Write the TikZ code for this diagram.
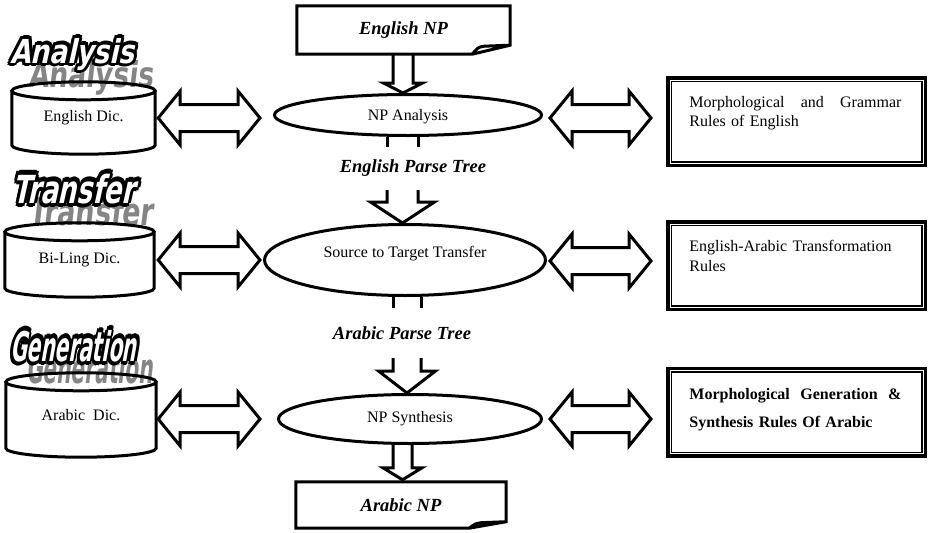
\documentclass[tikz,border=0pt]{standalone}
\usepackage{fontspec}
\setmainfont{Liberation Serif}
\newfontfamily\wafont{DejaVu Sans}
\usetikzlibrary{shapes.geometric,calc}

\newcommand\olc[3]{\rlap{\hspace*{#1}\raisebox{#2}{\textcolor{black}{#3}}}}
\newcommand\outlined[1]{\olc{1.2pt}{0pt}{#1}\olc{-1.2pt}{0pt}{#1}\olc{0pt}{1.2pt}{#1}\olc{0pt}{-1.2pt}{#1}\olc{0.85pt}{0.85pt}{#1}\olc{-0.85pt}{0.85pt}{#1}\olc{0.85pt}{-0.85pt}{#1}\olc{-0.85pt}{-0.85pt}{#1}\textcolor{white}{#1}}

% shaft of a block arrow: #1 top point, #2 bottom point, #3 point giving x centre, #4 half width
\newcommand\shaftseg[4]{\draw[blk] let \p1=#1, \p2=#2, \p3=#3 in (\x3-#4,\y1) -- (\x3-#4,\y2) (\x3+#4,\y1) -- (\x3+#4,\y2);}
% head of a block arrow: #1 top point, #2 tip, #3 shaft half, #4 head half, #5 head length
\newcommand\headseg[5]{\draw[blk] let \p1=#1, \p2=#2 in (\x2-#3,\y1) -- (\x2-#3,\y2+#5) -- (\x2-#4,\y2+#5) -- (\x2,\y2) -- (\x2+#4,\y2+#5) -- (\x2+#3,\y2+#5) -- (\x2+#3,\y1);}
% horizontal double block arrow between two points (y of the first)
\newcommand\dblarr[2]{\draw[blk] let \p1=#1, \p2=#2 in (\x1,\y1) -- (\x1+22pt,\y1+27pt) -- (\x1+22pt,\y1+13.5pt) -- (\x2-22pt,\y1+13.5pt) -- (\x2-22pt,\y1+27pt) -- (\x2,\y1) -- (\x2-22pt,\y1-27pt) -- (\x2-22pt,\y1-13.5pt) -- (\x1+22pt,\y1-13.5pt) -- (\x1+22pt,\y1-27pt) -- cycle;}
% cylinder drawn round a node
\newcommand\cylshape[1]{\draw[blk] let \p1=(#1.north west), \p2=(#1.south east), \n1={(\x2-\x1)/2} in (\x1+\n1,\y1-9pt) ellipse [x radius=\n1, y radius=9pt] (\x1,\y1-9pt) -- (\x1,\y2+9pt) arc[start angle=180, end angle=360, x radius=\n1, y radius=9pt] -- (\x2,\y1-9pt);}
% document box with folded corner drawn round a node
\newcommand\foldbox[3]{\draw[blk] let \p1=(#1.north west), \p2=(#1.south east) in (\x1,\y2) -- (\x1,\y1) -- (\x2,\y1) -- (\x2,\y2+#2) -- (\x2-#3,\y2) -- cycle (\x2-#3,\y2) .. controls (\x2-#3+6pt,\y2+#2-2pt) .. (\x2-#3+12pt,\y2+#2-1pt) -- (\x2,\y2+#2);}
% inner thin frame of a rule box
\newcommand\innerframe[1]{\draw[line width=1.5pt] ($(#1.north west)+(5.25,5.25)$) rectangle ($(#1.south east)+(-5.25,-5.25)$);}

\begin{document}
\begin{tikzpicture}[x=1pt,y=-1pt,
 blk/.style={line width=3pt, line join=miter},
 txtsixteen/.style={font=\fontsize{16}{19.5}\selectfont},
 ell/.style={ellipse, draw, line width=3pt, inner sep=0pt, txtsixteen},
 cylnode/.style={inner sep=0pt, txtsixteen},
 npbox/.style={inner sep=0pt, font=\fontsize{18.5}{22}\selectfont\bfseries\itshape},
 lbl/.style={inner sep=0pt, font=\fontsize{18.5}{22}\selectfont\bfseries\itshape},
 rulebox/.style={draw, line width=3.5pt, minimum width=257.5pt, minimum height=87.5pt, inner sep=0pt},
 rtext/.style={inner sep=0pt, text width=212pt, align=left, anchor=north west, txtsixteen},
 wa/.style={inner sep=0pt, anchor=base west, font=\wafont\bfseries}]
\useasboundingbox[fill=white] (0,0) rectangle (930,533);

% word art labels
\begin{scope}[shift={(28,87)}, xslant=0.12]
 \node[wa, transform shape, text=black!48] (was1) at (0,0) {\resizebox{125pt}{27pt}{Analysis}};
\end{scope}
\begin{scope}[shift={(10,63)}, xslant=0.22]
 \node[wa, transform shape] (wa1) at (0,0) {\resizebox{124pt}{29pt}{\outlined{Analysis}}};
\end{scope}
\begin{scope}[shift={(28,225)}, xslant=0.12]
 \node[wa, transform shape, text=black!48] (was2) at (0,0) {\resizebox{125pt}{29pt}{Transfer}};
\end{scope}
\begin{scope}[shift={(12,203)}, xslant=0.22]
 \node[wa, transform shape] (wa2) at (0,0) {\resizebox{122pt}{34pt}{\outlined{Transfer}}};
\end{scope}
\begin{scope}[shift={(26,383)}, xslant=0.12]
 \node[wa, transform shape, text=black!48] (was3) at (0,0) {\resizebox{127pt}{32pt}{Generation}};
\end{scope}
\begin{scope}[shift={(10,361)}, xslant=0.18]
 \node[wa, transform shape] (wa3) at (0,0) {\resizebox{126pt}{36pt}{\outlined{Generation}}};
\end{scope}

% centre column
\node[npbox, minimum width=213pt, minimum height=48pt] (enp) at (403.5,30) {English NP};
\foldbox{enp}{9pt}{38pt}
\node[ell, minimum width=267pt, minimum height=41pt, text height=11pt, text depth=0pt] (ana) at (408,115) {NP Analysis};
\node[lbl, minimum height=43pt] (ept) at (413,168.5) {English Parse Tree};
\node[ell, minimum width=281pt, minimum height=71pt, text height=11pt, text depth=17pt] (stt) at (405,260) {Source to Target Transfer};
\node[lbl, minimum height=50pt] (apt) at (402,333) {Arabic Parse Tree};
\node[ell, minimum width=263pt, minimum height=49pt] (syn) at (410,419) {NP Synthesis};
\node[npbox, minimum width=210pt, minimum height=46pt] (anp) at (401,505) {Arabic NP};
\foldbox{anp}{6.5pt}{37pt}

% vertical block arrows
\headseg{(enp.south)}{($(ana.north)+(-5,0)$)}{10pt}{19.5pt}{10pt}
\shaftseg{(ana.south)}{(ept.north)}{($(stt.north)+(-2.5,0)$)}{15.5pt}
\headseg{(ept.south)}{($(stt.north)+(-2.5,0)$)}{15.5pt}{32pt}{21pt}
\shaftseg{(stt.south)}{(apt.north)}{($(syn.north)+(-3,0)$)}{14pt}
\headseg{(apt.south)}{($(syn.north)+(-3,0)$)}{14pt}{28.5pt}{22pt}
\headseg{(syn.south)}{($(anp.north)+(1.5,-2)$)}{9.5pt}{19.5pt}{12pt}

% dictionaries
\node[cylnode, minimum width=143pt, minimum height=72pt] (edic) at (83.5,118) {English Dic.};
\cylshape{edic}
\node[cylnode, minimum width=149pt, minimum height=74pt] (bil) at (79.5,260) {Bi-Ling Dic.};
\cylshape{bil}
\node[cylnode, minimum width=150pt, minimum height=84pt] (adic) at (81,415) {Arabic~ Dic.};
\cylshape{adic}

% rule boxes
\node[rulebox] (rb1) at (796.5,121.5) {};
\innerframe{rb1}
\node[rtext] (rb1t) at ($(rb1.north west)+(23.25,20)$) {Morphological\hfill and\hfill Grammar\\Rules of English};
\node[rulebox] (rb2) at (796.5,265.5) {};
\innerframe{rb2}
\node[rtext] (rb2t) at ($(rb2.north west)+(23.25,20.25)$) {English-Arabic Transformation\\Rules};
\node[rulebox] (rb3) at (796.5,412) {};
\innerframe{rb3}
\node[rtext, font=\fontsize{16}{28}\selectfont\bfseries] (rb3t) at ($(rb3.north west)+(23.25,21.25)$) {Morphological\hfill Generation\hfill \&\\Synthesis Rules Of Arabic};

% horizontal double arrows
\dblarr{($(edic.east)+(3,0)$)}{($(ana.west)+(-13,0)$)}
\dblarr{($(ana.east)+(7,3)$)}{($(rb1.west)+(-15,0)$)}
\dblarr{($(bil.east)+(4,0)$)}{($(stt.west)+(-3,0)$)}
\dblarr{($(stt.east)+(3,1)$)}{($(rb2.west)+(-15,0)$)}
\dblarr{($(adic.east)+(2,4)$)}{($(syn.west)+(-17,0)$)}
\dblarr{($(syn.east)+(7,0)$)}{($(rb3.west)+(-15,0)$)}
\end{tikzpicture}
\end{document}
